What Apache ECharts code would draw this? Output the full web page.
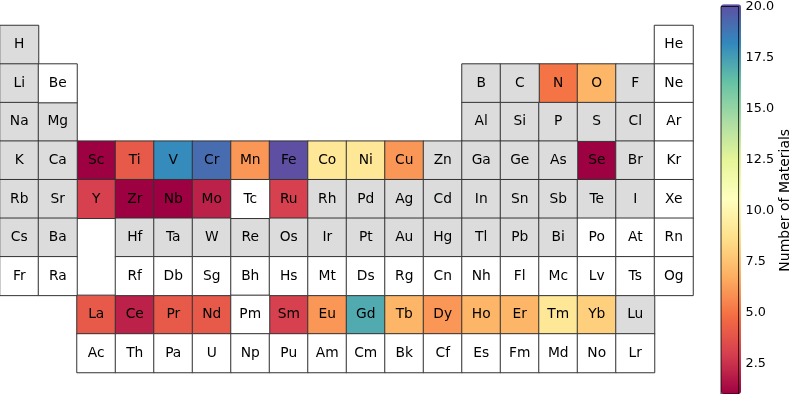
<!DOCTYPE html>
<html>
<head>
<meta charset="utf-8">
<script src="https://cdn.jsdelivr.net/npm/echarts@6/dist/echarts.min.js"></script>
<style>html,body{margin:0;padding:0;background:#fff}#c{width:793px;height:394px}</style>
</head>
<body>
<div id="c"></div>
<script>
// Periodic table layout (rows top to bottom, '.' = empty slot)
const tableRows = [
  'H . . . . . . . . . . . . . . . . He',
  'Li Be . . . . . . . . . . B C N O F Ne',
  'Na Mg . . . . . . . . . . Al Si P S Cl Ar',
  'K Ca Sc Ti V Cr Mn Fe Co Ni Cu Zn Ga Ge As Se Br Kr',
  'Rb Sr Y Zr Nb Mo Tc Ru Rh Pd Ag Cd In Sn Sb Te I Xe',
  'Cs Ba . Hf Ta W Re Os Ir Pt Au Hg Tl Pb Bi Po At Rn',
  'Fr Ra . Rf Db Sg Bh Hs Mt Ds Rg Cn Nh Fl Mc Lv Ts Og',
  '. . La Ce Pr Nd Pm Sm Eu Gd Tb Dy Ho Er Tm Yb Lu .',
  '. . Ac Th Pa U Np Pu Am Cm Bk Cf Es Fm Md No Lr .'
];
const columnLabels = ['1','2','3','4','5','6','7','8','9','10','11','12','13','14','15','16','17','18'];
const rowLabels = ['1','2','3','4','5','6','7','Ln','An'];

// Elements with materials and their counts
const countedElements = ['Sc','Ti','V','Cr','Mn','Fe','Co','Ni','Cu','Se','N','O',
  'Y','Zr','Nb','Mo','Ru','La','Ce','Pr','Nd','Sm','Eu','Gd','Tb','Dy','Ho','Er','Tm','Yb'];
const materialCounts = [1,4,18,19,6,20,9,9,6,1,5,7,
  3,1,1,2,3,4,2,4,4,3,6,17,7,6,7,7,9,8];

// Elements present in the data set but with no materials (grey)
const zeroElements = ['H','Li','Na','Mg','K','Ca','Zn','Ga','Ge','As','Br','B','C','F',
  'Al','Si','P','S','Cl','Rb','Sr','Rh','Pd','Ag','Cd','In','Sn','Sb','Te','I',
  'Cs','Ba','Hf','Ta','W','Re','Os','Ir','Pt','Au','Hg','Tl','Pb','Bi','Lu'];

const cbTicks = [2.5, 5.0, 7.5, 10.0, 12.5, 15.0, 17.5, 20.0];
const cbMin = 1, cbMax = 20;
const spectral = ['#9e0142','#d53e4f','#f46d43','#fdae61','#fee08b','#ffffbf',
  '#e6f598','#abdda4','#66c2a5','#3288bd','#5e4fa2'];

const colored = [], grey = [], white = [];
tableRows.forEach((line, r) => {
  line.split(' ').forEach((sym, c) => {
    if (sym === '.') return;
    const k = countedElements.indexOf(sym);
    if (k >= 0) colored.push({name: sym, value: [c, r, materialCounts[k]]});
    else if (zeroElements.includes(sym)) grey.push({name: sym, value: [c, r, 0]});
    else white.push({name: sym, value: [c, r, 0]});
  });
});

const font = 'DejaVu Sans';
const cellLabel = {show: true, formatter: p => p.name, color: '#000', fontSize: 13.8, fontFamily: font};
const cellBorder = {borderColor: '#333', borderWidth: 1};

function hm(data, color) {
  const s = {
    type: 'heatmap', xAxisIndex: 0, yAxisIndex: 0, data: data,
    label: cellLabel, itemStyle: Object.assign({}, cellBorder),
    emphasis: {disabled: true}, silent: true, animation: false
  };
  if (color) s.itemStyle.color = color;
  return s;
}

const chart = echarts.init(document.getElementById('c'), null, {renderer: 'canvas'});
chart.setOption({
  animation: false,
  textStyle: {fontFamily: font},
  grid: [
    {left: 0, top: 25.5, width: 693, height: 347, containLabel: false},
    {left: 721, top: 4.3, width: 20, height: 389.7, show: true, borderColor: '#000',
     borderWidth: 0.8, backgroundColor: 'transparent', z: 3}
  ],
  xAxis: [
    {type: 'category', gridIndex: 0, data: columnLabels, show: false},
    {type: 'value', gridIndex: 1, min: 0, max: 1, show: false}
  ],
  yAxis: [
    {type: 'category', gridIndex: 0, data: rowLabels, inverse: true, show: false},
    {type: 'value', gridIndex: 1, min: cbMin, max: cbMax, position: 'right',
     axisLine: {show: false}, splitLine: {show: false},
     axisTick: {show: true, length: 3.5, lineStyle: {color: '#000', width: 0.8}, customValues: cbTicks},
     axisLabel: {show: true, customValues: cbTicks, formatter: v => Number(v).toFixed(1),
       color: '#000', fontSize: 12.8, fontFamily: font, margin: 7},
     name: 'Number of Materials', nameLocation: 'middle', nameRotate: 90, nameGap: 38,
     nameTextStyle: {color: '#000', fontSize: 14, fontFamily: font}}
  ],
  visualMap: {
    type: 'continuous', min: cbMin, max: cbMax, seriesIndex: 0, dimension: 2,
    inRange: {color: spectral}, orient: 'vertical', left: 721, top: 4.3,
    itemWidth: 20, itemHeight: 389.7, padding: 0, calculable: false,
    hoverLink: false, text: null, showLabel: false, z: 1
  },
  series: [hm(colored), hm(grey, '#dcdcdc'), hm(white, '#ffffff')]
});
</script>
</body>
</html>
